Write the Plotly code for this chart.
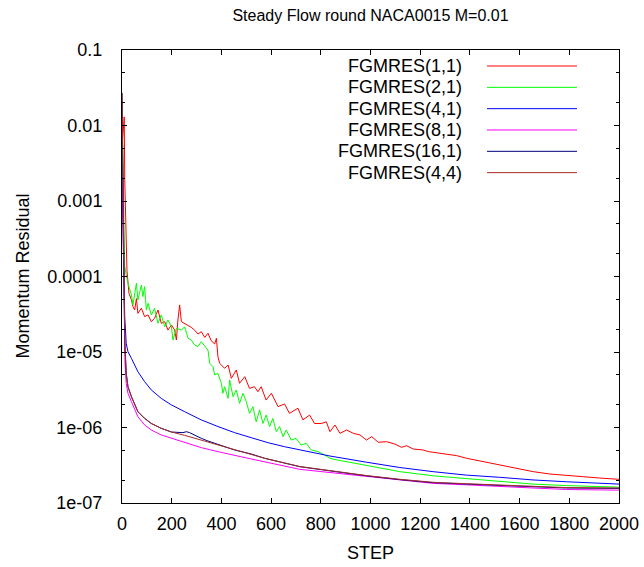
import plotly.graph_objects as go

# ---------------- data ----------------
series_names = ["FGMRES(1,1)", "FGMRES(2,1)", "FGMRES(4,1)", "FGMRES(8,1)", "FGMRES(16,1)", "FGMRES(4,4)"]
series_colors = ["#ff0000", "#00ff00", "#0000ff", "#ff00ff", "#000080", "#a52a2a"]

red_step = [0, 4, 9, 11, 14, 20, 28, 38, 44, 51, 58, 64, 78, 91, 105, 118, 131, 145, 158, 172, 185, 199, 212, 219, 225, 232, 239, 252, 266, 279, 292, 306, 319, 333, 346, 359, 373, 380, 386, 393, 400, 413, 427, 440, 460, 473, 494, 513, 533, 547, 560, 580, 601, 628, 654, 674, 708, 728, 755, 775, 802, 822, 837, 857, 877, 904, 931, 958, 984, 1005, 1031, 1065, 1098, 1125, 1145, 1172, 1212, 1233, 1253, 1293, 1347, 1387, 1454, 1521, 1588, 1655, 1722, 1789, 1856, 1923, 2000]
red_val = [5.0e-3, 8.0e-3, 1.3e-2, 2.0e-3, 5.0e-4, 1.2e-4, 6.0e-5, 4.9e-5, 4.0e-5, 3.6e-5, 5.1e-5, 3.25e-5, 3.8e-5, 2.94e-5, 3.1e-5, 2.52e-5, 2.79e-5, 3.6e-5, 2.4e-5, 2.52e-5, 1.95e-5, 2.28e-5, 1.95e-5, 1.44e-5, 2.65e-5, 4.2e-5, 2.52e-5, 2.4e-5, 2.28e-5, 2.12e-5, 1.95e-5, 1.73e-5, 1.86e-5, 1.56e-5, 1.77e-5, 1.41e-5, 1.28e-5, 1.52e-5, 8.67e-6, 7.08e-6, 6.73e-6, 6.08e-6, 6.73e-6, 4.48e-6, 5.78e-6, 3.85e-6, 4.71e-6, 3.3e-6, 3.47e-6, 2.98e-6, 3.47e-6, 2.31e-6, 2.84e-6, 1.89e-6, 2.05e-6, 1.54e-6, 1.8e-6, 1.26e-6, 1.46e-6, 1.13e-6, 1.13e-6, 1.19e-6, 8.8e-7, 1.08e-6, 8.37e-7, 9.27e-7, 8.37e-7, 7.96e-7, 6.82e-7, 7.57e-7, 6.37e-7, 6.49e-7, 6.04e-7, 5.46e-7, 5.74e-7, 5.19e-7, 5.04e-7, 4.79e-7, 4.69e-7, 4.46e-7, 4.24e-7, 3.91e-7, 3.53e-7, 3.18e-7, 2.88e-7, 2.6e-7, 2.42e-7, 2.3e-7, 2.23e-7, 2.14e-7, 2.06e-7]

green_step = [0, 3, 6, 9, 11, 17, 24, 38, 44, 58, 64, 78, 84, 91, 98, 105, 118, 131, 145, 158, 172, 185, 199, 205, 219, 239, 252, 266, 279, 292, 306, 319, 333, 346, 353, 366, 373, 386, 400, 406, 413, 427, 433, 447, 460, 473, 487, 500, 513, 527, 540, 554, 567, 580, 594, 607, 621, 634, 648, 661, 681, 701, 721, 741, 762, 789, 815, 837, 850, 984, 1118, 1252, 1386, 1520, 1654, 1789, 2000]
green_val = [2.0e-2, 4.0e-3, 8.0e-4, 2.5e-4, 1.35e-4, 1.05e-4, 8.13e-5, 5.69e-5, 4.2e-5, 8.13e-5, 4.89e-5, 7.71e-5, 5.41e-5, 7.33e-5, 3.6e-5, 4.41e-5, 3.09e-5, 3.79e-5, 2.4e-5, 3.09e-5, 2.16e-5, 2.65e-5, 2.16e-5, 1.44e-5, 2.06e-5, 1.95e-5, 2.16e-5, 1.52e-5, 1.44e-5, 1.24e-5, 1.18e-5, 1.37e-5, 1.18e-5, 1.06e-5, 7.08e-6, 6.4e-6, 4.96e-6, 5.21e-6, 3.85e-6, 2.84e-6, 3.47e-6, 2.43e-6, 4.26e-6, 2.56e-6, 3.14e-6, 2.09e-6, 2.84e-6, 2.2e-6, 1.54e-6, 1.89e-6, 1.19e-6, 1.71e-6, 1.13e-6, 1.46e-6, 1.03e-6, 1.32e-6, 8.8e-7, 1.03e-6, 7.57e-7, 9.27e-7, 6.82e-7, 7.19e-7, 5.86e-7, 6.17e-7, 5.04e-7, 4.79e-7, 4.33e-7, 3.91e-7, 3.8e-7, 3.16e-7, 2.6e-7, 2.29e-7, 2.09e-7, 1.95e-7, 1.78e-7, 1.7e-7, 1.62e-7]

blue_step = [0, 3, 6, 9, 11, 17, 24, 38, 64, 91, 118, 158, 199, 252, 319, 386, 453, 520, 587, 654, 721, 789, 837, 984, 1118, 1252, 1386, 1520, 1654, 1789, 2000]
blue_val = [1.8e-3, 5.0e-4, 1.2e-4, 4.5e-5, 2.94e-5, 1.3e-5, 1.01e-5, 8.24e-6, 5.48e-6, 4.05e-6, 3.14e-6, 2.43e-6, 1.99e-6, 1.62e-6, 1.26e-6, 1.03e-6, 8.55e-7, 7.33e-7, 6.3e-7, 5.57e-7, 5.04e-7, 4.55e-7, 4.19e-7, 3.47e-7, 2.95e-7, 2.6e-7, 2.34e-7, 2.19e-7, 2.02e-7, 1.91e-7, 1.78e-7]

magenta_step = [0, 3, 6, 9, 12, 17, 24, 38, 51, 64, 91, 118, 158, 199, 252, 319, 386, 453, 507, 716, 850, 984, 1118, 1252, 1386, 1520, 1654, 1789, 2000]
magenta_val = [8.0e-3, 1.0e-3, 1.0e-4, 2.0e-5, 7.0e-6, 3.85e-6, 2.84e-6, 2.2e-6, 1.71e-6, 1.39e-6, 1.08e-6, 9.27e-7, 7.96e-7, 7.19e-7, 6.3e-7, 5.41e-7, 4.79e-7, 4.33e-7, 3.91e-7, 2.79e-7, 2.51e-7, 2.24e-7, 2.0e-7, 1.82e-7, 1.74e-7, 1.64e-7, 1.58e-7, 1.51e-7, 1.48e-7]

navy_step = [0, 1, 3, 5, 8, 11, 17, 24, 38, 51, 64, 91, 118, 158, 199, 245, 259, 272, 292, 319, 346, 373, 386, 453, 520, 574, 716, 850, 984, 1118, 1252, 1386, 1520, 1654, 1789, 2000]
navy_val = [2.7e-2, 1.2e-2, 2.0e-3, 3.0e-4, 4.0e-5, 1.4e-5, 5.21e-6, 3.47e-6, 2.56e-6, 1.99e-6, 1.62e-6, 1.32e-6, 1.13e-6, 9.75e-7, 8.71e-7, 8.55e-7, 8.8e-7, 8.55e-7, 7.87e-7, 7.19e-7, 6.62e-7, 6.17e-7, 5.9e-7, 5.04e-7, 4.46e-7, 3.91e-7, 3.02e-7, 2.6e-7, 2.29e-7, 2.04e-7, 1.86e-7, 1.78e-7, 1.7e-7, 1.62e-7, 1.58e-7, 1.56e-7]

darkred_step = [0, 1, 3, 5, 8, 11, 17, 24, 38, 51, 64, 91, 118, 158, 199, 252, 319, 386, 453, 520, 574, 716, 850, 984, 1118, 1252, 1386, 1520, 1654, 1789, 2000]
darkred_val = [2.7e-2, 1.2e-2, 2.0e-3, 3.0e-4, 4.0e-5, 1.4e-5, 5.21e-6, 3.47e-6, 2.56e-6, 1.99e-6, 1.62e-6, 1.32e-6, 1.13e-6, 9.75e-7, 8.71e-7, 7.87e-7, 6.82e-7, 5.86e-7, 5.04e-7, 4.46e-7, 3.91e-7, 3.04e-7, 2.62e-7, 2.31e-7, 2.06e-7, 1.88e-7, 1.8e-7, 1.72e-7, 1.64e-7, 1.6e-7, 1.58e-7]

all_steps = [red_step, green_step, blue_step, magenta_step, navy_step, darkred_step]
all_vals = [red_val, green_val, blue_val, magenta_val, navy_val, darkred_val]

x_ticks = [0, 200, 400, 600, 800, 1000, 1200, 1400, 1600, 1800, 2000]
y_ticks = [1e-7, 1e-6, 1e-5, 1e-4, 1e-3, 1e-2, 1e-1]
y_ticktext = ["1e-07", "1e-06", "1e-05", "0.0001", "0.001", "0.01", "0.1"]
y_minor = [m * 10.0 ** e for e in range(-7, -1) for m in (2, 5)]

title_text = "Steady Flow round NACA0015 M=0.01"
x_title = "STEP"
y_title = "Momentum Residual"

# ---------------- figure ----------------
W, H = 644, 567
L, R, T, B = 122, 25, 50, 64
FONT = "Liberation Sans, Arial, sans-serif"

fig = go.Figure()
for name, col, xs, ys in zip(series_names, series_colors, all_steps, all_vals):
    fig.add_trace(go.Scatter(x=xs, y=ys, mode="lines", name=name,
                             line=dict(color=col, width=1), showlegend=False))

fig.update_layout(
    width=W, height=H,
    margin=dict(l=L, r=R, t=T, b=B, autoexpand=False),
    paper_bgcolor="white", plot_bgcolor="white",
    font=dict(family=FONT, size=18, color="black"),
    title=dict(text=title_text, x=0.5, xref="paper", xanchor="center",
               y=1 - 15 / H, yref="container", yanchor="middle",
               automargin=False,
               font=dict(family=FONT, size=16, color="black")),
    xaxis=dict(range=[0, 2000], tickvals=x_ticks, ticks="inside", ticklen=5,
               tickcolor="black", showline=True, linecolor="black", linewidth=1,
               mirror="allticks", showgrid=False, zeroline=False, automargin=False,
               ticklabelstandoff=4, tickfont=dict(size=18)),
    yaxis=dict(type="log", range=[-7, -1], tickvals=y_ticks, ticktext=y_ticktext,
               ticks="inside", ticklen=5, tickcolor="black", showline=True,
               linecolor="black", linewidth=1, mirror="allticks", showgrid=False,
               zeroline=False, automargin=False, ticklabelstandoff=15,
               tickfont=dict(size=18),
               minor=dict(tickvals=y_minor, ticks="inside", ticklen=3,
                          tickcolor="black", showgrid=False)),
)

# axis titles
plot_w = W - L - R
plot_h = H - T - B
fig.add_annotation(text=y_title, xref="paper", yref="paper",
                   x=(22 - L) / plot_w, y=0.5, textangle=-90, showarrow=False,
                   xanchor="center", yanchor="middle", font=dict(size=18))
fig.add_annotation(text=x_title, xref="paper", yref="paper",
                   x=0.5, y=-(553 - (H - B)) / plot_h, showarrow=False,
                   xanchor="center", yanchor="middle", font=dict(size=18))

# gnuplot-style key: right-aligned text followed by a line sample
key_text_right = 464
key_line_x0, key_line_x1 = 487, 577
key_top, key_row = 66, 21.33
for i, (name, col) in enumerate(zip(series_names, series_colors)):
    py = key_top + i * key_row
    yp = (H - B - py) / plot_h
    fig.add_annotation(text=name, xref="paper", yref="paper",
                       x=(key_text_right - L) / plot_w, y=yp, showarrow=False,
                       xanchor="right", yanchor="middle", font=dict(size=18))
    fig.add_shape(type="line", xref="paper", yref="paper",
                  x0=(key_line_x0 - L) / plot_w, x1=(key_line_x1 - L) / plot_w,
                  y0=yp, y1=yp, line=dict(color=col, width=1))

fig.write_html("out.html", config={"displayModeBar": False},
               post_script="document.body.style.margin='0';document.body.style.padding='0';")
